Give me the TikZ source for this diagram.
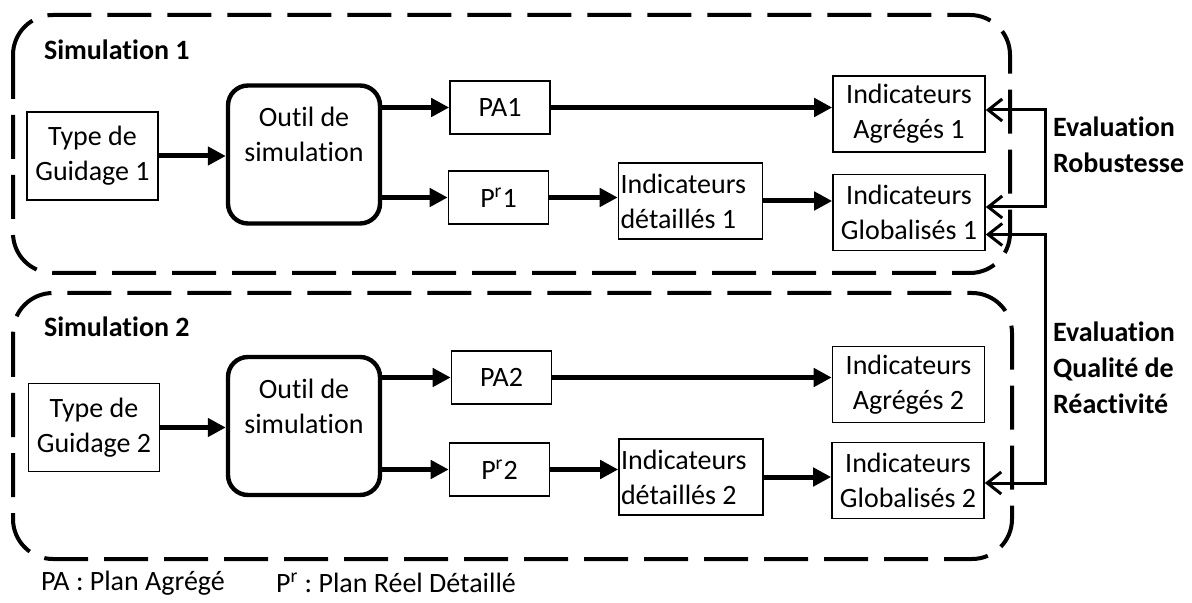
\documentclass[tikz,border=0pt]{standalone}
\usepackage{fontspec}
\setmainfont{Carlito}[Ligatures=NoCommon]
\frenchspacing
\usetikzlibrary{arrows.meta,positioning,calc}
\newcommand{\diagfont}{\fontsize{14}{17.5}\selectfont}
\tikzset{
  zonebox/.style={
    draw, line width=2pt, dash pattern=on 22pt off 8pt,
    rounded corners=20pt
  },
  zonetitle/.style={anchor=west, font=\diagfont\bfseries},
  guidebox/.style={
    rectangle, draw, line width=0.8pt,
    minimum width=65.5pt, minimum height=44pt, align=flush center,
    font=\diagfont
  },
  simtool/.style={
    rectangle, rounded corners=10pt, draw, line width=2.2pt,
    minimum width=76pt, minimum height=69pt
  },
  tooltext/.style={align=flush center, font=\diagfont},
  planbox/.style={
    rectangle, draw, line width=0.8pt,
    minimum width=50pt, minimum height=26.5pt, font=\diagfont
  },
  detbox/.style={
    rectangle, draw, line width=0.8pt, inner sep=1pt,
    text width=70pt, minimum height=38pt, align=flush left,
    font=\diagfont
  },
  indbox/.style={
    rectangle, draw, line width=0.8pt,
    minimum width=76pt, minimum height=38pt, align=flush center,
    font=\diagfont
  },
  flowarrow/.style={-{Triangle[length=9pt,width=9pt]}, line width=2.5pt},
  evalarrow/.style={
    {Straight Barb[length=7pt,width=11pt]}-{Straight Barb[length=7pt,width=11pt]},
    line width=1.5pt
  },
  evallabel/.style={
    anchor=west, align=flush left,
    font=\fontsize{14}{18}\selectfont\bfseries
  },
  legendtext/.style={anchor=west, font=\diagfont}
}

\begin{document}
\begin{tikzpicture}[x=0.5pt, y=-0.5pt]
  \useasboundingbox (0,0) rectangle (1192,603);

  % Simulation zones
  \draw[zonebox] (13,15) rectangle (1010,273);
  \node[zonetitle] (sim1) at (37,50) {Simulation 1};
  \draw[zonebox] (13,293) rectangle (1012,559);
  \node[zonetitle] (sim2) at (37,327) {Simulation 2};

  % Simulation 1
  \node[guidebox] (guide1) at (92.5,156) {Type de\\Guidage 1};
  \node[simtool] (tool1) at (304,154.5) {};
  \node[tooltext, below=8.5pt of tool1.north] (tool1txt) {Outil de\\simulation};
  \node[planbox] (pa1) at (500,107.5) {PA1};
  \node[planbox] (pr1) at (498.5,197.5) {P\textsuperscript{r}1};
  \node[detbox] (det1) at (690.5,201) {Indicateurs\\détaillés 1};
  \node[indbox] (agr1) at (909,114) {Indicateurs\\Agrégés 1};
  \node[indbox] (glo1) at (909,212.5) {Indicateurs\\Globalisés 1};

  % Simulation 2
  \node[guidebox] (guide2) at (94,427.5) {Type de\\Guidage 2};
  \node[simtool] (tool2) at (304,426) {};
  \node[tooltext, below=8.5pt of tool2.north] (tool2txt) {Outil de\\simulation};
  \node[planbox] (pa2) at (501.5,377.5) {PA2};
  \node[planbox] (pr2) at (499.5,469.5) {P\textsuperscript{r}2};
  \node[detbox] (det2) at (691,477) {Indicateurs\\détaillés 2};
  \node[indbox] (agr2) at (908.5,384.5) {Indicateurs\\Agrégés 2};
  \node[indbox] (glo2) at (908,480.5) {Indicateurs\\Globalisés 2};

  % Flow arrows
  \foreach \s in {1,2} {
    \draw[flowarrow] (guide\s.east) -- (guide\s.east -| tool\s.west);
    \draw[flowarrow] (tool\s.east |- pa\s) -- (pa\s.west);
    \draw[flowarrow] (tool\s.east |- pr\s) -- (pr\s.west);
    \draw[flowarrow] (pa\s.east) -- (pa\s.east -| agr\s.west);
    \draw[flowarrow] (pr\s.east) -- (pr\s.east -| det\s.west);
    \draw[flowarrow] (det\s.east) -- (det\s.east -| glo\s.west);
  }

  % Evaluations
  \draw[evalarrow] ([yshift=2pt]agr1.east) -- ++(60,0)
    |- ([yshift=2.75pt]glo1.east);
  \draw[evalarrow] ([yshift=-11pt]glo1.east) -- ++(60,0)
    |- ([yshift=-1.25pt]glo2.east);
  \node[evallabel] (rob) at (1046,145) {Evaluation\\Robustesse};
  \node[evallabel] (reac) at (1046,368) {Evaluation\\Qualité de\\Réactivité};

  % Legend
  \node[legendtext] (legpa) at (34,583) {PA : Plan Agrégé};
  \node[legendtext] (legpr) at (269,583) {P\textsuperscript{r} : Plan Réel Détaillé};
\end{tikzpicture}
\end{document}
